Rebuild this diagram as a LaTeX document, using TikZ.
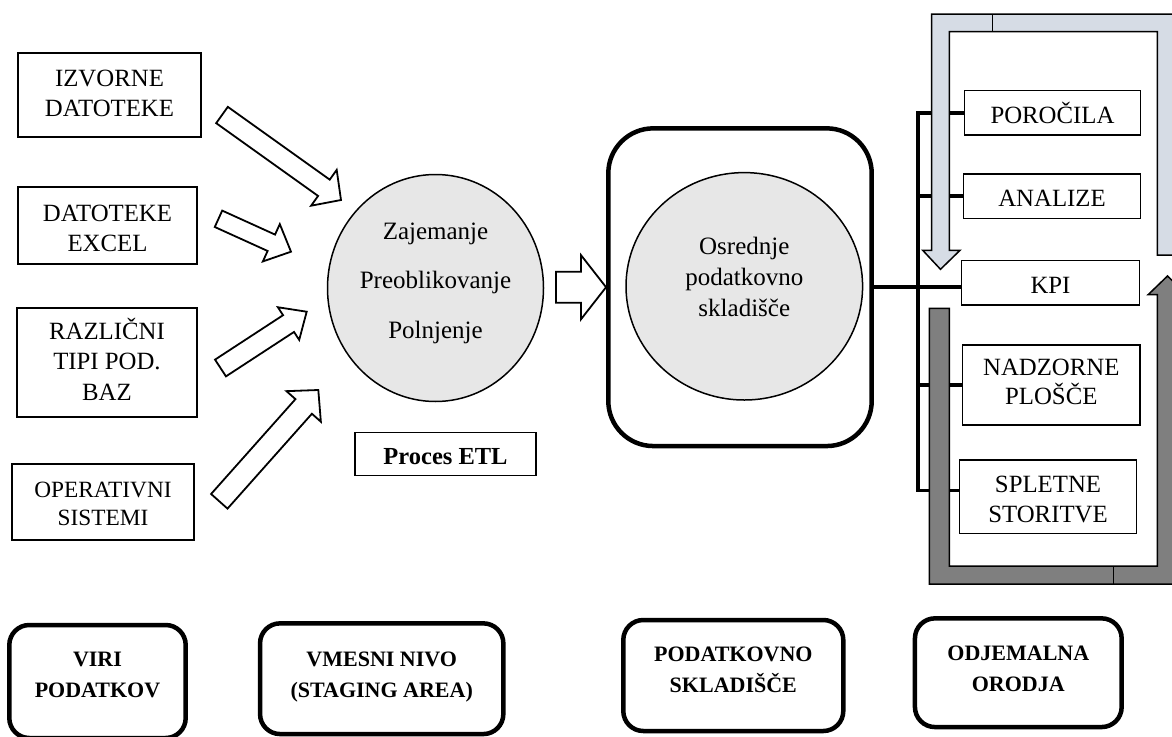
\documentclass[tikz,border=0pt]{standalone}
\usepackage{fontspec}
\setmainfont{Liberation Serif}
\usetikzlibrary{shapes.geometric,calc}

\definecolor{etlgray}{RGB}{231,231,231}
\definecolor{upbar}{RGB}{214,220,229}
\definecolor{downbar}{RGB}{127,127,127}

% text with a fixed first-line height and a chosen last-line depth
\newcommand\boxtext[2]{\vrule width0pt height22pt depth0pt#2\vrule width0pt height0pt depth#1pt}

% hollow block arrow: tail, tip, half shaft width, half head width, head length
\newcommand\blockarrow[5]{%
  \coordinate (ba-base) at ($(#2)!#5!(#1)$);
  \draw[blockarr] ($(#1)!#3!90:(#2)$) -- ($(ba-base)!#3!90:(#2)$)
    -- ($(ba-base)!#4!90:(#2)$) -- (#2) -- ($(ba-base)!#4!-90:(#2)$)
    -- ($(ba-base)!#3!-90:(#2)$) -- ($(#1)!#3!-90:(#2)$) -- cycle;}

\tikzset{
  plain/.style={draw, line width=1.5pt, fill=white, align=center, inner sep=0pt,
    font=\fontsize{24.8}{30.5}\selectfont},
  tag/.style={draw, line width=4.5pt, rounded corners=20pt, fill=white, align=center,
    inner sep=0pt, font=\fontsize{22}{31}\selectfont\bfseries},
  blob/.style={ellipse, draw, line width=1.5pt, fill=etlgray, align=center, inner sep=0pt,
    font=\fontsize{25}{31}\selectfont},
  blockarr/.style={draw, line width=1.8pt, fill=white, line join=miter},
  bus/.style={line width=3.5pt, line join=miter},
  trunk/.style={line width=4.5pt},
  uturn/.style={draw, line width=1.5pt, line join=miter},
}

\begin{document}
\begin{tikzpicture}[x=1pt,y=-1pt]
\useasboundingbox (0,0) rectangle (1172,736);
\fill[white] (0,0) rectangle (1172,736);
\clip (0,0) rectangle (1172,736);

% data sources
\node[plain, minimum width=183pt, minimum height=84pt] (izv) at (109.5,95)
  {\boxtext{9.5}{IZVORNE\\DATOTEKE}};
\node[plain, minimum width=179pt, minimum height=77pt] (xls) at (107.5,225.5)
  {\boxtext{0}{DATOTEKE\\EXCEL}};
\node[plain, minimum width=180pt, minimum height=109pt] (raz) at (107,362.5)
  {\boxtext{8}{RAZLIČNI\\TIPI POD.\\BAZ}};
\node[plain, minimum width=182pt, minimum height=76pt, font=\fontsize{23.3}{28}\selectfont] (ops) at (103,502)
  {\boxtext{4}{OPERATIVNI\\SISTEMI}};

% ETL process
\node[blob, minimum width=216pt, minimum height=227pt] (etl) at (435.5,288)
  {\boxtext{21}{Zajemanje\\[18.5pt]Preoblikovanje\\[18.5pt]Polnjenje}};
\node[plain, minimum width=181pt, minimum height=43.4pt, font=\fontsize{24.5}{30}\selectfont\bfseries] (etlname) at (445.5,454)
  {\boxtext{0}{Proces ETL}};

% arrows from the sources into the ETL process
\coordinate (a1s) at (222,115);   \coordinate (a1e) at (341,200);
\coordinate (a2s) at (218.5,218.8); \coordinate (a2e) at (291,251.7);
\coordinate (a3s) at (220.5,368); \coordinate (a3e) at (306.7,311.7);
\coordinate (a4s) at (219.3,501.3); \coordinate (a4e) at (318.3,390);
\blockarrow{a1s}{a1e}{10pt}{22pt}{21pt}
\blockarrow{a2s}{a2e}{9pt}{20.5pt}{21.6pt}
\blockarrow{a3s}{a3e}{10pt}{19.5pt}{21.7pt}
\blockarrow{a4s}{a4e}{11pt}{23pt}{22pt}

% data warehouse
\node[draw, line width=4.5pt, rounded corners=45pt, minimum width=263.4pt, minimum height=317.7pt] (wh) at (740,287.2) {};
\node[blob, minimum width=236.6pt, minimum height=227.4pt] (core) at (744.3,286.3)
  {\boxtext{24.6}{Osrednje\\podatkovno\\skladišče}};
\coordinate (a5s) at (556,287.2);
\blockarrow{a5s}{wh.west}{15.5pt}{32pt}{25pt}

% client tools
\node[plain, minimum width=176.4pt, minimum height=44.3pt] (rep) at (1052.5,112.8) {\boxtext{1}{POROČILA}};
\node[plain, minimum width=177.4pt, minimum height=44.3pt] (ana) at (1052,196.2) {\boxtext{1}{ANALIZE}};
\node[plain, minimum width=177.6pt, minimum height=44.3pt] (kpi) at (1050.5,282.8) {\boxtext{1}{KPI}};
\node[plain, minimum width=177.3pt, minimum height=80pt, font=\fontsize{24.8}{29.5}\selectfont] (dash) at (1051.3,385)
  {\boxtext{12.5}{NADZORNE\\PLOŠČE}};
\node[plain, minimum width=177.4pt, minimum height=73.3pt, font=\fontsize{24.8}{29.5}\selectfont] (web) at (1048,496.7)
  {\boxtext{0}{SPLETNE\\STORITVE}};

% distribution bus
\coordinate (bt) at (918,112.8);
\coordinate (bb) at (918,490.7);
\draw[bus] (rep.west) -- (bt) -- (bb) -- (bb -| web.west);
\draw[bus] (ana.west) -- (ana.west -| bt);
\draw[bus] (dash.west) -- (dash.west -| bt);
\draw[trunk] (wh.east) -- (wh.east -| kpi.west);

% request / response loops
\draw[uturn, fill=upbar] (1176,255) -- (1176,14) -- (931.7,14) -- (931.7,250.3) -- (922.7,250.3)
  -- (940.5,269.3) -- (960,250.3) -- (949.3,250.3) -- (949.3,31.7) -- (1157.3,31.7) -- (1157.3,255) -- cycle;
\draw[line width=1.5pt] (992.7,14) -- (992.7,31.7);
\draw[uturn, fill=downbar] (929.3,308.3) -- (949.3,308.3) -- (949.3,566) -- (1157.3,566) -- (1157.3,294.5)
  -- (1148.3,294.5) -- (1167.5,276) -- (1186.7,294.5) -- (1177.7,294.5) -- (1177.7,584) -- (929.3,584) -- cycle;
\draw[line width=1.5pt] (1113.3,566) -- (1113.3,584);

% layer captions
\node[tag, minimum width=176.4pt, minimum height=113pt] (viri) at (97.5,681.5)
  {\boxtext{20.6}{VIRI\\PODATKOV}};
\node[tag, minimum width=243.3pt, minimum height=110.7pt] (stage) at (381.7,678.7)
  {\boxtext{15}{VMESNI NIVO\\(STAGING AREA)}};
\node[tag, minimum width=220pt, minimum height=111pt] (dwh) at (733.3,675.5)
  {\boxtext{18.6}{PODATKOVNO\\SKLADIŠČE}};
\node[tag, minimum width=206.7pt, minimum height=108.7pt] (tools) at (1018.3,672.7)
  {\boxtext{14.7}{ODJEMALNA\\ORODJA}};
\end{tikzpicture}
\end{document}
